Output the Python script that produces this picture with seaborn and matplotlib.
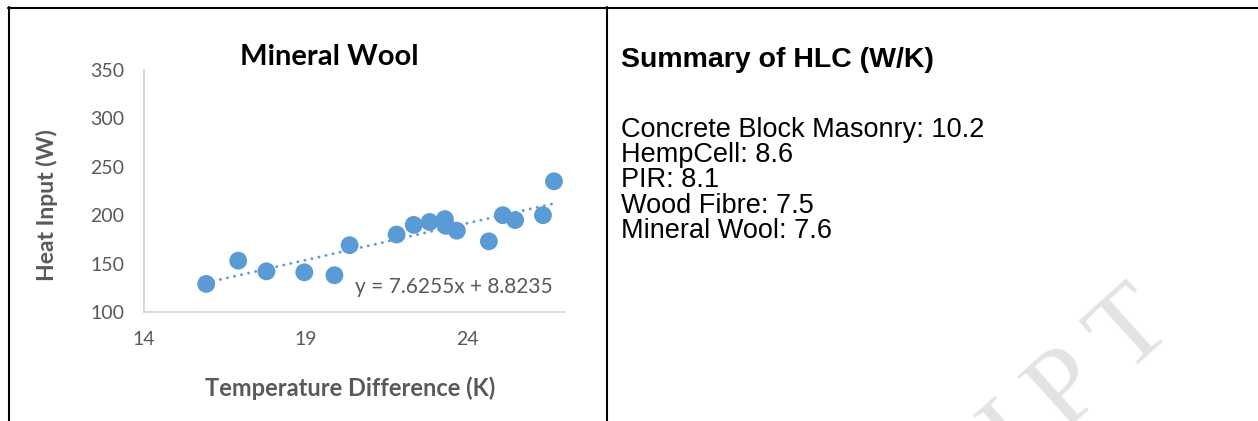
import matplotlib
matplotlib.use("Agg")
import matplotlib.pyplot as plt
from matplotlib.lines import Line2D
import seaborn as sns
import pandas as pd
import numpy as np

# ---- data ----
temp_diff = [15.92, 16.91, 17.78, 18.95, 19.88, 20.35, 21.80, 22.33, 22.82,
             23.29, 23.32, 23.66, 24.65, 25.08, 25.46, 26.32, 26.66]
heat_input = [129, 153, 142, 141, 138, 169, 180, 190, 193,
              196, 189, 184, 173, 200, 195, 200, 235]
trend_slope = 7.6255
trend_intercept = 8.8235
x_ticks = [14, 19, 24]
y_ticks = [100, 150, 200, 250, 300, 350]
summary_materials = ["Concrete Block Masonry", "HempCell", "PIR", "Wood Fibre", "Mineral Wool"]
summary_hlc = ["10.2", "8.6", "8.1", "7.5", "7.6"]
watermark = "ACCEPTED MANUSCRIPT"

sns.set_theme(style="white")
plt.rcParams["font.family"] = ["Lato", "DejaVu Sans"]

W, H = 1258, 421
fig = plt.figure(figsize=(W / 100, H / 100), dpi=100)
fig.patch.set_facecolor("white")

# watermark (letter-spaced, behind everything)
fig.text(1176 / W, 1 - 330 / H, "\u2009".join(watermark), rotation=42,
         rotation_mode="anchor", ha="right", va="baseline", fontsize=80,
         family=["Liberation Serif", "DejaVu Serif"], color="#e3e3e3", zorder=0)

# table borders
fig.add_artist(Line2D([8 / W, 1.0], [1 - 7.5 / H, 1 - 7.5 / H], transform=fig.transFigure,
                      color="black", lw=1.5))
fig.add_artist(Line2D([8.5 / W, 8.5 / W], [0, 1 - 7 / H], transform=fig.transFigure,
                      color="black", lw=1.5))
fig.add_artist(Line2D([606.5 / W, 606.5 / W], [0, 1 - 7 / H], transform=fig.transFigure,
                      color="black", lw=1.5))

# ---- scatter chart ----
ax = fig.add_axes([144 / W, 1 - 312 / H, (565 - 144) / W, (312 - 70) / H])
df = pd.DataFrame({"Temperature Difference (K)": temp_diff, "Heat Input (W)": heat_input})
sns.scatterplot(data=df, x="Temperature Difference (K)", y="Heat Input (W)", ax=ax,
                color="#5B9BD5", s=165, edgecolor="none", zorder=3)
xs = np.array([min(temp_diff), max(temp_diff)])
ax.plot(xs, trend_slope * xs + trend_intercept, color="#5B9BD5", lw=2.0,
        linestyle=(0, (0.1, 2.5)), dash_capstyle="round", zorder=2)

ax.set_xlim(14, 27)
ax.set_ylim(100, 350)
ax.set_xticks(x_ticks)
ax.set_yticks(y_ticks)
ax.tick_params(length=0, labelsize=14, labelcolor="#595959", pad=14)
for side in ["top", "right"]:
    ax.spines[side].set_visible(False)
for side in ["left", "bottom"]:
    ax.spines[side].set_color("#d0d0d0")
    ax.spines[side].set_linewidth(1.1)
ax.grid(False)

ax.set_xlabel("Temperature Difference (K)", fontsize=17, fontweight="bold", color="#595959")
ax.xaxis.set_label_coords((350 - 144) / 421, (312 - 388) / 242)
ax.xaxis.label.set_va("center")
ax.set_ylabel("Heat Input (W)", fontsize=16.5, fontweight="bold", color="#595959")
ax.yaxis.set_label_coords((47 - 144) / 421, (312 - 205) / 242)
ax.yaxis.label.set_va("center")

ax.text((329 - 144) / 421, (312 - 57) / 242, "Mineral Wool", transform=ax.transAxes,
        ha="center", va="center", fontsize=21, fontweight="bold", color="black")
ax.text((553 - 144) / 421, (312 - 287) / 242,
        f"y = {trend_slope}x + {trend_intercept}", transform=ax.transAxes,
        ha="right", va="center", fontsize=15, color="#595959")

# ---- summary panel ----
fig.text(621 / W, 1 - 60 / H, "Summary of HLC (W/K)", ha="left", va="center",
         fontsize=20.5, fontweight="bold", family=["Liberation Sans", "DejaVu Sans"], color="black")
for i, (m, v) in enumerate(zip(summary_materials, summary_hlc)):
    fig.text(621 / W, 1 - (130 + 25.2 * i) / H, f"{m}: {v}", ha="left", va="center",
             fontsize=19.5, family=["Liberation Sans", "DejaVu Sans"], color="black")

fig.savefig("out.png", dpi=100, facecolor="white")
